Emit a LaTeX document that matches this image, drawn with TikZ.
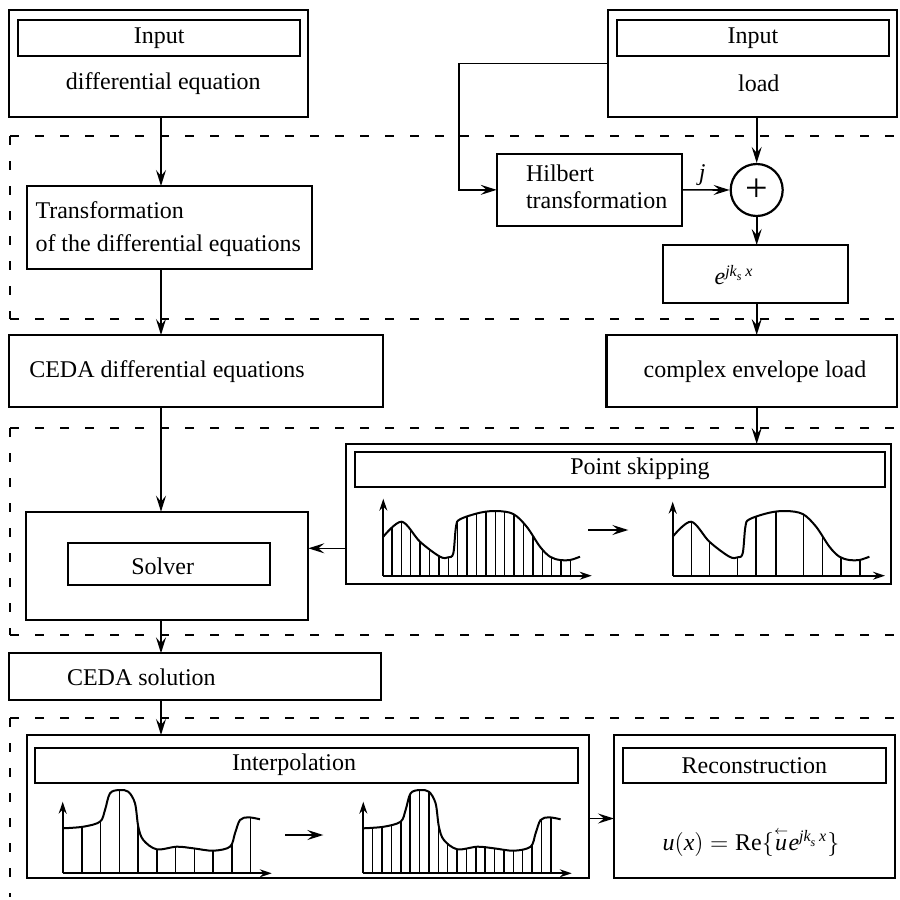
\documentclass[tikz,border=0pt]{standalone}
\usepackage{amsmath}
\usepackage{fontspec}
\setmainfont{Liberation Serif}
\usetikzlibrary{arrows.meta}
\newcommand{\myPScurve}{plot[smooth,tension=0.55] coordinates {(0,-39) (18.4,-54) (36.7,-34) (56.7,-19) (65,-18.4) (70,-22.4) (72.7,-49) (76.7,-56.4) (96.7,-63) (113.4,-64.7) (130,-61.7) (143.4,-49) (156.7,-29) (166.7,-19) (176.7,-15.7) (186.7,-15.7) (196.7,-19)}}
\newcommand{\myIPcurve}{plot[smooth,tension=0.55] coordinates {(0,-45) (20.6,-46.6) (37.3,-51.6) (42.3,-63.3) (47.3,-80) (56.6,-83.3) (65.6,-81.6) (72.3,-70) (75.6,-46.6) (80.6,-33.3) (94,-24) (114,-26.6) (130.6,-25) (150.6,-22.6) (167.3,-26.6) (172.3,-40) (177.3,-53.3) (185.6,-56) (197.3,-54)}}
\begin{document}
\begin{tikzpicture}[x=0.5pt,y=-0.5pt,
  every node/.style={font=\fontsize{12}{14}\selectfont},
  box/.style={draw, line width=1.15pt, inner sep=0pt, outer sep=0pt},
  bar/.style={draw, line width=1pt, inner sep=0pt, outer sep=0pt},
  txt/.style={inner sep=0pt, outer sep=0pt},
  conn/.style={line width=0.8pt, -{Stealth[length=8pt,width=5pt,inset=3pt]}},
  region/.style={line width=1pt, dash pattern=on 4.5pt off 8pt},
  curve/.style={line width=1pt},
  vline/.style={line width=0.75pt},
  axis/.style={line width=0.85pt, -{Stealth[length=6pt,width=4pt,inset=2pt]}}
]
\useasboundingbox (0,0) rectangle (900,900);

% dashed regions
\draw[region] (10,136) -- (897,136);
\draw[region] (10,136) -- (10,318.7);
\draw[region] (10,318.7) -- (897,318.7);
\draw[region] (10,428.3) -- (897,428.3);
\draw[region] (10,428.3) -- (10,635);
\draw[region] (10,635) -- (897,635);
\draw[region] (10,718.3) -- (897,718.3);
\draw[region] (10,718.3) -- (10,897);

% column coordinates
\coordinate (colL) at (161,0);
\coordinate (colR) at (756.7,0);
\coordinate (hc) at (459,0);
\coordinate (psy) at (0,548.3);
\coordinate (iy) at (0,818.5);

% input boxes
\node[box, minimum width=149.65pt, minimum height=53.65pt] (in1) at (158.65,63.65) {};
\node[bar, minimum width=140.85pt, minimum height=17.75pt] (in1bar) at (159.15,37.75) {Input};
\node[txt] (in1txt) at (163.3,83.3) {differential equation};

\node[box, minimum width=144.65pt, minimum height=53.65pt] (in2) at (752.35,63.65) {};
\node[bar, minimum width=136.15pt, minimum height=18pt] (in2bar) at (752.85,38) {Input};
\node[txt] (in2txt) at (758.8,83) {load};

% transformation
\node[box, minimum width=142.5pt, minimum height=41.65pt] (trans) at (169.2,227.65) {};
\node[txt, anchor=west, align=left, font=\fontsize{12}{16.5}\selectfont] (transtxt) at (35.5,229.5) {Transformation\\of the differential equations};

% hilbert
\node[box, minimum width=92.8pt, minimum height=35.85pt] (hilbert) at (589.5,189.85) {};
\node[txt, anchor=west, align=left, font=\fontsize{12}{13.35}\selectfont] (hiltxt) at (526,186.5) {Hilbert\\transformation};

\node[draw, circle, line width=1.1pt, minimum size=26pt, inner sep=0pt] (plus) at (756.7,190) {\fontsize{20}{20}\selectfont +};

\node[box, minimum width=92.5pt, minimum height=28.85pt] (ebox) at (755.8,273.85) {};
\node[txt] (etxt) at (734,275) {$\textit{e}^{\textit{jk}_{\textit{s}}\,\textit{x}}$};

% CEDA diff eq and complex envelope load
\node[box, minimum width=187.15pt, minimum height=35.85pt] (ceda) at (196.15,370.85) {};
\node[txt, anchor=west] (cedatxt) at (29.3,372) {CEDA differential equations};
\node[box, minimum width=145.3pt, minimum height=35.85pt] (cel) at (751.7,370.85) {};
\node[txt] (celtxt) at (755,372) {complex envelope load};

% solver
\node[box, minimum width=141.15pt, minimum height=54.15pt] (solver) at (167.15,565.85) {};
\node[bar, minimum width=100.85pt, minimum height=20.85pt] (solverbar) at (169.15,564.15) {};
\node[txt] (solvertxt) at (162.7,566) {Solver};

% point skipping
\node[box, minimum width=272.35pt, minimum height=70pt] (ps) at (618.35,514) {};
\node[bar, minimum width=265pt, minimum height=17.5pt] (psbar) at (620,469.5) {};
\node[txt] (pstxt) at (640,469) {Point skipping};

% CEDA solution
\node[box, minimum width=186pt, minimum height=23.35pt] (cedasol) at (195,676.65) {};
\node[txt, anchor=west] (cedasoltxt) at (67,677) {CEDA solution};

% interpolation
\node[box, minimum width=281.3pt, minimum height=71.65pt] (interp) at (308,806.65) {};
\node[bar, minimum width=271.65pt, minimum height=17.5pt] (interpbar) at (306.65,765.8) {};
\node[txt] (interptxt) at (294,765) {Interpolation};

% reconstruction
\node[box, minimum width=140.5pt, minimum height=71.65pt] (recon) at (754.5,806.65) {};
\node[bar, minimum width=131.65pt, minimum height=17.5pt] (reconbar) at (754.35,765.8) {Reconstruction};
\node[txt] (formula) at (751,842) {$\textit{u}(\textit{x}) = \text{Re}\{\overset{\scriptscriptstyle\leftarrow}{\textit{u}}\textit{e}^{\textit{jk}_{\textit{s}}\,\textit{x}}\}$};

% connectors
\draw[conn] (in1.south -| colL) -- (trans.north -| colL);
\draw[conn] (trans.south -| colL) -- (ceda.north -| colL);
\draw[conn] (ceda.south -| colL) -- (solver.north -| colL);
\draw[conn] (solver.south -| colL) -- (cedasol.north -| colL);
\draw[conn] (cedasol.south -| colL) -- (interp.north -| colL);
\draw[conn] (in2.west) -- (in2.west -| hc) |- (hilbert.west);
\draw[conn] (hilbert.east) -- node[pos=0.42, above, inner sep=2pt] {\textit{j}} (plus.west);
\draw[conn] (in2.south -| colR) -- (plus.north);
\draw[conn] (plus.south) -- (ebox.north -| plus);
\draw[conn] (ebox.south -| colR) -- (cel.north -| colR);
\draw[conn] (cel.south -| colR) -- (ps.north -| colR);
\draw[conn] (ps.west |- psy) -- (solver.east |- psy);
\draw[conn] (interp.east |- iy) -- (recon.west |- iy);

% point skipping plots
\coordinate (psa1) at (588,530);
\coordinate (psa2) at (628.3,530);
\draw[conn] (psa1) -- (psa2);
\begin{scope}[shift={(383.3,575.7)}]
  \begin{scope}
    \clip \myPScurve -- (196.7,0) -- (0,0) -- cycle;
    \foreach \k in {1,...,20} \draw[vline] ({9.4*\k-0.8},0) -- ++(0,-90);
  \end{scope}
  \draw[curve] \myPScurve;
  \draw[axis] (0,0) -- (0,-77);
  \draw[axis] (0,0) -- (208.4,0);
\end{scope}
\begin{scope}[shift={(672.7,575.7)}]
  \begin{scope}
    \clip \myPScurve -- (196.7,0) -- (0,0) -- cycle;
    \foreach \p in {19,36.7,65,83.4,103.4,130.7,150,168.4,187.4} \draw[vline] (\p,0) -- ++(0,-90);
  \end{scope}
  \draw[curve] \myPScurve;
  \draw[axis] (0,0) -- (0,-74);
  \draw[axis] (0,0) -- (212.3,0);
\end{scope}

% interpolation plots
\coordinate (ipa1) at (285,835);
\coordinate (ipa2) at (323.3,835);
\draw[conn] (ipa1) -- (ipa2);
\begin{scope}[shift={(62.7,873.3)}]
  \begin{scope}
    \clip \myIPcurve -- (197.3,0) -- (0,0) -- cycle;
    \foreach \k in {1,...,10} \draw[vline] ({18.75*\k+0.3},0) -- ++(0,-100);
  \end{scope}
  \draw[curve] \myIPcurve;
  \draw[axis] (0,0) -- (0,-71.6);
  \draw[axis] (0,0) -- (209,0);
\end{scope}
\begin{scope}[shift={(363.3,873.3)}]
  \begin{scope}
    \clip \myIPcurve -- (197.3,0) -- (0,0) -- cycle;
    \foreach \k in {1,...,20} \draw[vline] ({9.375*\k},0) -- ++(0,-100);
  \end{scope}
  \draw[curve] \myIPcurve;
  \draw[axis] (0,0) -- (0,-71.6);
  \draw[axis] (0,0) -- (208.4,0);
\end{scope}
\end{tikzpicture}
\end{document}
